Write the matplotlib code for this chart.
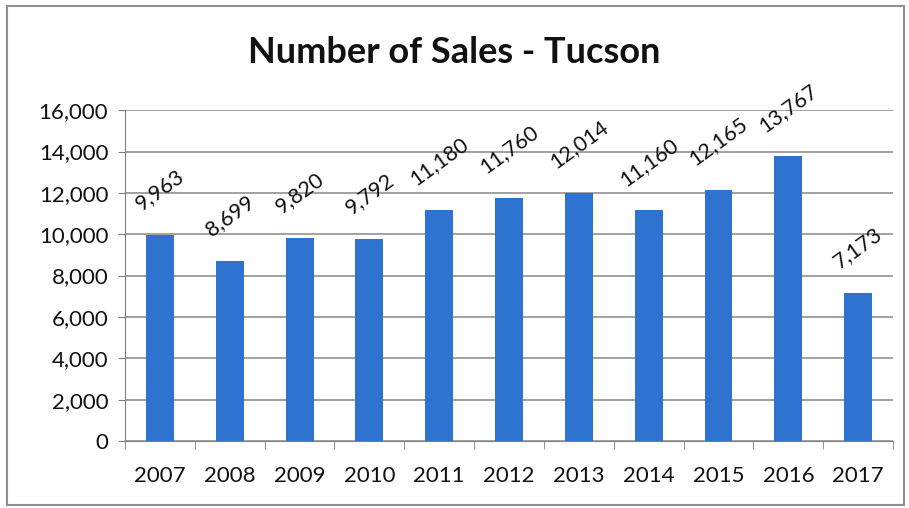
import matplotlib
matplotlib.use("Agg")
import matplotlib.pyplot as plt
from matplotlib.patches import Rectangle
import numpy as np

years = ["2007", "2008", "2009", "2010", "2011", "2012", "2013", "2014", "2015", "2016", "2017"]
sales = [9963, 8699, 9820, 9792, 11180, 11760, 12014, 11160, 12165, 13767, 7173]
y_ticks = [0, 2000, 4000, 6000, 8000, 10000, 12000, 14000, 16000]

plt.rcParams['font.family'] = ['Lato', 'DejaVu Sans']

fig = plt.figure(figsize=(9.09, 5.08), dpi=100)
ax = fig.add_axes([0.1375, 0.132, 0.845, 0.651])

x = np.arange(len(years))
bar_color = '#2E73D0'
ax.bar(x, sales, width=0.4, color=bar_color, zorder=3)

ax.set_xlim(-0.5, len(years) - 0.5)
ax.set_ylim(0, 16000)
ax.set_yticks(y_ticks)
ax.set_yticklabels([f"{v:,}" for v in y_ticks], fontsize=16, color='#111111')
ax.set_xticks(x)
ax.set_xticklabels(years, fontsize=16, color='#111111')
ax.tick_params(axis='x', length=0, pad=18)
ax.set_xticks(np.arange(-0.5, len(years)), minor=True)
ax.tick_params(axis='x', which='minor', length=6, color='#808080', direction='out')
ax.tick_params(axis='y', length=5, color='#808080', pad=7)

ax.grid(axis='y', color='#9A9A9A', linewidth=1.3, zorder=0)
for s in ['top', 'right']:
    ax.spines[s].set_visible(False)
ax.spines['left'].set_color('#808080')
ax.spines['bottom'].set_color('#808080')

for xi, v in zip(x, sales):
    ax.annotate(f"{v:,}", (xi, v), xytext=(0, 15), textcoords='offset points',
                ha='center', va='bottom', rotation=36, fontsize=15.5, color='#111111')

fig.text(0.5, 0.897, "Number of Sales - Tucson", ha='center', va='center',
         fontsize=26, fontweight='bold', color='#111111')

fig.patches.append(Rectangle((0.008, 0.006), 0.987, 0.982, transform=fig.transFigure,
                             fill=False, edgecolor='#909090', linewidth=1.5))

fig.savefig("out.png", dpi=100)
